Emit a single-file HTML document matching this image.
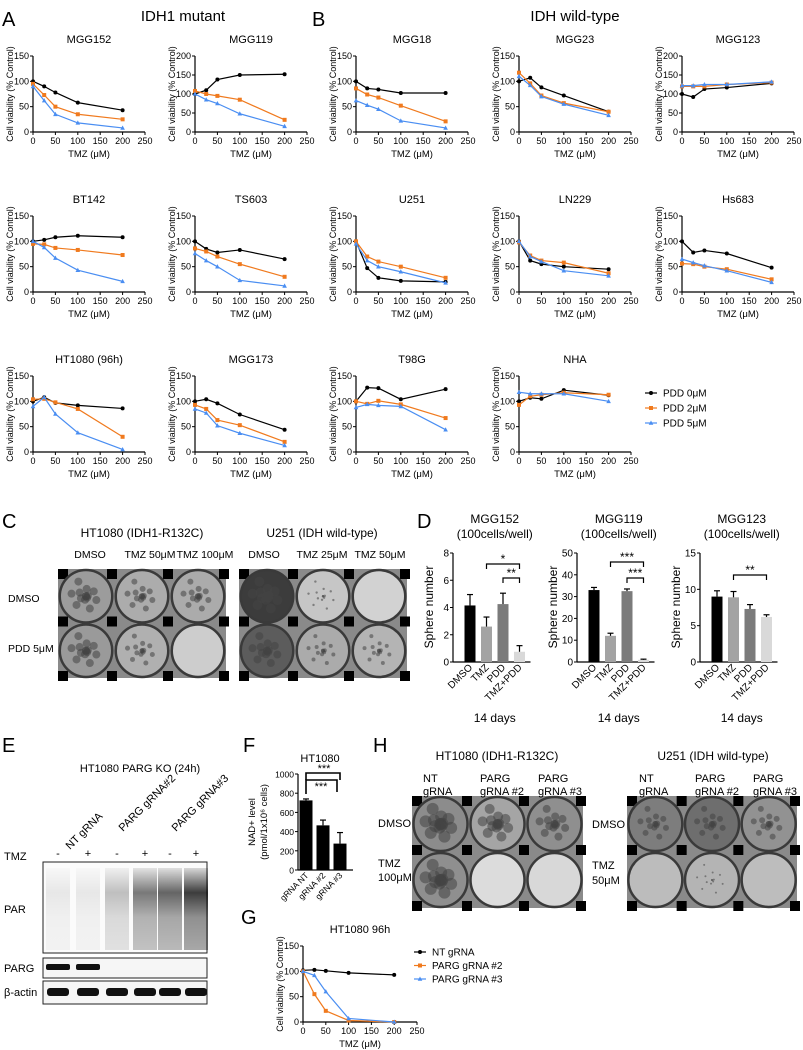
<!DOCTYPE html>
<html><head><meta charset="utf-8"><style>
html,body{margin:0;padding:0;background:#fff;}
svg{display:block;font-family:"Liberation Sans",Arial,sans-serif;}
</style></head><body>
<svg id="fig" width="803" height="1050" viewBox="0 0 803 1050" xmlns="http://www.w3.org/2000/svg">
<g id="static">
<text x="2" y="26" font-size="20">A</text>
<text x="312" y="26" font-size="20">B</text>
<text x="183" y="21" font-size="15" text-anchor="middle">IDH1 mutant</text>
<text x="575" y="21" font-size="15" text-anchor="middle">IDH wild-type</text>
<text x="2" y="528" font-size="20">C</text>
<text x="417" y="528" font-size="20">D</text>
<text x="2" y="752" font-size="20">E</text>
<text x="243" y="752" font-size="20">F</text>
<text x="241" y="924" font-size="20">G</text>
<text x="373" y="752" font-size="20">H</text>
</g>
<g id="charts"></g>
</svg>
<script>
// ---- Dose-response data (TMZ doses, µM) ----
const doses = [0, 25, 50, 100, 200];
const MGG152_PDD0 = [100, 90, 78, 58, 43];
const MGG152_PDD2 = [95, 73, 50, 35, 25];
const MGG152_PDD5 = [90, 62, 35, 18, 8];
const MGG119_PDD0 = [100, 110, 138, 150, 152];
const MGG119_PDD2 = [108, 100, 95, 85, 32];
const MGG119_PDD5 = [100, 85, 75, 48, 15];
const MGG18_PDD0 = [100, 86, 84, 77, 77];
const MGG18_PDD2 = [86, 74, 68, 52, 21];
const MGG18_PDD5 = [62, 53, 45, 22, 8];
const MGG23_PDD0 = [100, 107, 88, 72, 40];
const MGG23_PDD2 = [117, 96, 72, 57, 40];
const MGG23_PDD5 = [110, 92, 70, 55, 33];
const MGG123_PDD0 = [100, 92, 113, 117, 128];
const MGG123_PDD2 = [120, 120, 120, 125, 130];
const MGG123_PDD5 = [122, 122, 125, 125, 132];
const BT142_PDD0 = [100, 103, 108, 111, 108];
const BT142_PDD2 = [95, 94, 87, 83, 73];
const BT142_PDD5 = [100, 88, 67, 43, 21];
const TS603_PDD0 = [100, 85, 78, 83, 65];
const TS603_PDD2 = [86, 80, 70, 55, 30];
const TS603_PDD5 = [76, 62, 50, 23, 12];
const U251_PDD0 = [100, 47, 28, 22, 20];
const U251_PDD2 = [100, 70, 60, 50, 28];
const U251_PDD5 = [95, 62, 50, 40, 18];
const LN229_PDD0 = [100, 62, 55, 50, 45];
const LN229_PDD2 = [98, 72, 62, 58, 37];
const LN229_PDD5 = [100, 70, 60, 42, 32];
const HS683_PDD0 = [100, 78, 82, 76, 48];
const HS683_PDD2 = [56, 55, 50, 45, 25];
const HS683_PDD5 = [65, 58, 52, 42, 19];
const HT1080_PDD0 = [100, 108, 97, 92, 86];
const HT1080_PDD2 = [104, 105, 98, 85, 30];
const HT1080_PDD5 = [90, 108, 75, 38, 5];
const MGG173_PDD0 = [100, 104, 96, 74, 44];
const MGG173_PDD2 = [93, 85, 63, 53, 20];
const MGG173_PDD5 = [85, 77, 52, 37, 13];
const T98G_PDD0 = [100, 127, 126, 104, 124];
const T98G_PDD2 = [100, 95, 101, 94, 67];
const T98G_PDD5 = [88, 94, 92, 90, 44];
const NHA_PDD0 = [100, 107, 105, 122, 112];
const NHA_PDD2 = [93, 110, 113, 117, 113];
const NHA_PDD5 = [118, 115, 115, 115, 100];
const xTicks = [0, 50, 100, 150, 200, 250];
const yTicks150 = [0, 50, 100, 150];
const yTicks200 = [0, 50, 100, 150, 200];
const legendLabels = ["PDD 0\u03bcM", "PDD 2\u03bcM", "PDD 5\u03bcM"];
// ---- G data ----
const G_NT = [102, 103, 101, 97, 93];
const G_PARG2 = [100, 55, 22, 3, 0];
const G_PARG3 = [100, 92, 60, 7, 0];
const gLegend = ["NT gRNA", "PARG gRNA #2", "PARG gRNA #3"];
// ---- D bar data ----
const dCategories = ["DMSO", "TMZ", "PDD", "TMZ+PDD"];
const D_MGG152 = [4.15, 2.6, 4.25, 0.75];
const D_MGG152_ERR = [0.8, 0.7, 0.8, 0.45];
const D_MGG119 = [33, 12, 32.5, 1];
const D_MGG119_ERR = [1.2, 1.2, 1, 0.3];
const D_MGG123 = [9, 8.9, 7.3, 6.2];
const D_MGG123_ERR = [0.8, 0.8, 0.6, 0.3];
const dTicks152 = [0, 2, 4, 6, 8];
const dTicks119 = [0, 10, 20, 30, 40, 50];
const dTicks123 = [0, 5, 10, 15];
// ---- F bar data ----
const fCategories = ["gRNA NT", "gRNA #2", "gRNA #3"];
const F_NAD = [725, 465, 275];
const F_ERR = [15, 55, 115];
const fTicks = [0, 200, 400, 600, 800, 1000];

const NS = "http://www.w3.org/2000/svg";
const root = document.getElementById("charts");
const COLORS = ["#000000", "#f07a1e", "#4a8ef2"];
function el(tag, attrs, parent, txt) {
  const e = document.createElementNS(NS, tag);
  for (const k in attrs) e.setAttribute(k, attrs[k]);
  if (txt !== undefined) e.textContent = txt;
  (parent || root).appendChild(e);
  return e;
}
function marker(g, kind, x, y, c) {
  let m;
  if (kind === 0) m = el("circle", {cx: x, cy: y, r: 2, fill: c}, g);
  else if (kind === 1) m = el("rect", {x: x - 2, y: y - 2, width: 4, height: 4, fill: c}, g);
  else m = el("path", {d: `M${x},${y-2.5}L${x+2.3},${y+1.8}L${x-2.3},${y+1.8}Z`, fill: c}, g);
  return m;
}
function lineChart(name, title, x0, y0, ymax, series, opts) {
  opts = opts || {};
  const W = opts.w || 112, H = 76;
  const g = el("g", {});
  
  
  const sx = v => x0 + v / 250 * W;
  const sy = v => y0 - Math.max(v, 0) / ymax * H;
  el("text", {x: x0 + W / 2, y: y0 - H - 13, "font-size": 11, "text-anchor": "middle"}, g, title);
  const ticks = ymax === 200 ? yTicks200 : yTicks150;
  el("line", {x1: x0, y1: y0, x2: x0, y2: y0 - H, stroke: "#000", "stroke-width": 1.2}, g);
  el("line", {x1: x0, y1: y0, x2: x0 + W, y2: y0, stroke: "#000", "stroke-width": 1.2}, g);
  ticks.forEach(t => {
    el("line", {x1: x0 - 3, y1: sy(t), x2: x0, y2: sy(t), stroke: "#000"}, g);
    el("text", {x: x0 - 4, y: sy(t) + 3, "font-size": 9, "text-anchor": "end"}, g, t);
  });
  xTicks.forEach(t => {
    el("line", {x1: sx(t), y1: y0, x2: sx(t), y2: y0 + 3, stroke: "#000"}, g);
    el("text", {x: sx(t), y: y0 + 12, "font-size": 9, "text-anchor": "middle"}, g, t);
  });
  el("text", {x: x0 + W / 2, y: y0 + 25, "font-size": 9.5, "text-anchor": "middle"}, g, opts.xl || "TMZ (\u03bcM)");
  el("text", {x: 0, y: 0, "font-size": 9, "text-anchor": "middle", transform: `translate(${x0 - 20},${y0 - H / 2}) rotate(-90)`}, g, "Cell viability (% Control)");
  series.forEach((s, i) => {
    const pts = doses.map((d, j) => sx(d) + "," + sy(s[j])).join(" ");
    const pl = el("polyline", {points: pts, fill: "none", stroke: COLORS[i], "stroke-width": 1.2}, g);
    
    
    doses.forEach((d, j) => {
      const m = marker(g, i, sx(d), sy(s[j]), COLORS[i]);
      
      
    });
  });
  return g;
}
const R1 = 132, R2 = 292, R3 = 452;
lineChart("mgg152", "MGG152", 33, R1, 150, [MGG152_PDD0, MGG152_PDD2, MGG152_PDD5]);
lineChart("mgg119", "MGG119", 195, R1, 200, [MGG119_PDD0, MGG119_PDD2, MGG119_PDD5]);
lineChart("mgg18", "MGG18", 356, R1, 150, [MGG18_PDD0, MGG18_PDD2, MGG18_PDD5]);
lineChart("mgg23", "MGG23", 519, R1, 150, [MGG23_PDD0, MGG23_PDD2, MGG23_PDD5]);
lineChart("mgg123", "MGG123", 682, R1, 200, [MGG123_PDD0, MGG123_PDD2, MGG123_PDD5]);
lineChart("bt142", "BT142", 33, R2, 150, [BT142_PDD0, BT142_PDD2, BT142_PDD5]);
lineChart("ts603", "TS603", 195, R2, 150, [TS603_PDD0, TS603_PDD2, TS603_PDD5]);
lineChart("u251", "U251", 356, R2, 150, [U251_PDD0, U251_PDD2, U251_PDD5]);
lineChart("ln229", "LN229", 519, R2, 150, [LN229_PDD0, LN229_PDD2, LN229_PDD5]);
lineChart("hs683", "Hs683", 682, R2, 150, [HS683_PDD0, HS683_PDD2, HS683_PDD5]);
lineChart("ht1080", "HT1080 (96h)", 33, R3, 150, [HT1080_PDD0, HT1080_PDD2, HT1080_PDD5]);
lineChart("mgg173", "MGG173", 195, R3, 150, [MGG173_PDD0, MGG173_PDD2, MGG173_PDD5]);
lineChart("t98g", "T98G", 356, R3, 150, [T98G_PDD0, T98G_PDD2, T98G_PDD5]);
lineChart("nha", "NHA", 519, R3, 150, [NHA_PDD0, NHA_PDD2, NHA_PDD5]);
lineChart("g-ht1080", "HT1080 96h", 303, 1022, 150, [G_NT, G_PARG2, G_PARG3], {w: 114});

function legend(labels, x, y, dy, prefix) {
  labels.forEach((t, i) => {
    const g = el("g", {});
    
    
    el("line", {x1: x - 6, y1: y + i * dy, x2: x + 6, y2: y + i * dy, stroke: COLORS[i], "stroke-width": 1.2}, g);
    marker(g, i, x, y + i * dy, COLORS[i]);
    el("text", {x: x + 12, y: y + i * dy + 3.5, "font-size": 10}, g, t);
  });
}
legend(legendLabels, 651, 393, 15, "pdd");
legend(gLegend, 420, 952, 13.5, "g");

function barChart(name, t1, x0, y0, H, ymax, vals, errs, ticks, cats, fills, opts) {
  opts = opts || {};
  const g = el("g", {});
  
  
  const sy = v => y0 - v / ymax * H;
  const bw = opts.bw || 11, step = opts.step || 16.5, off = opts.off || 17;
  el("line", {x1: x0, y1: y0, x2: x0, y2: y0 - H, stroke: "#000", "stroke-width": 1.2}, g);
  el("line", {x1: x0, y1: y0, x2: x0 + off + step * (vals.length - 1) + bw, y2: y0, stroke: "#000", "stroke-width": 1.2}, g);
  ticks.forEach(t => {
    el("line", {x1: x0 - 3, y1: sy(t), x2: x0, y2: sy(t), stroke: "#000"}, g);
    el("text", {x: x0 - 4, y: sy(t) + 3.5, "font-size": opts.tf || 10, "text-anchor": "end"}, g, t);
  });
  vals.forEach((v, i) => {
    const cx = x0 + off + step * i;
    const r = el("rect", {x: cx - bw / 2, y: sy(v), width: bw, height: y0 - sy(v), fill: fills[i]}, g);
    
    
    el("line", {x1: cx, y1: sy(v), x2: cx, y2: sy(v + errs[i]), stroke: "#000", "stroke-width": 1.2}, g);
    el("line", {x1: cx - 3, y1: sy(v + errs[i]), x2: cx + 3, y2: sy(v + errs[i]), stroke: "#000", "stroke-width": 1.2}, g);
    el("text", {x: 0, y: 0, "font-size": opts.cf || 10, "text-anchor": "end", transform: `translate(${cx + 3},${y0 + 6}) rotate(-45)`}, g, cats[i]);
  });
  return {g, sy, off, step};
}
const dFills = ["#000", "#a3a3a3", "#7b7b7b", "#d9d9d9"];
function dPanel(name, title, x0, vals, errs, ymax, ticks, sigs) {
  const r = barChart(name, title, x0, 662, 109, ymax, vals, errs, ticks, dCategories, dFills);
  const cx0 = x0 + 17 + 16.5 * 1.5;
  el("text", {x: cx0, y: 523, "font-size": 12, "text-anchor": "middle"}, r.g, title);
  el("text", {x: cx0, y: 538, "font-size": 12, "text-anchor": "middle"}, r.g, "(100cells/well)");
  el("text", {x: 0, y: 0, "font-size": 12, "text-anchor": "middle", transform: `translate(${x0 - 20},${607}) rotate(-90)`}, r.g, "Sphere number");
  el("text", {x: cx0, y: 722, "font-size": 12, "text-anchor": "middle"}, r.g, "14 days");
  sigs.forEach(s => {
    const a = x0 + 17 + 16.5 * s[0], b = x0 + 17 + 16.5 * s[1], yy = s[2];
    el("path", {d: `M${a},${yy + 5}V${yy}H${b}V${yy + 5}`, fill: "none", stroke: "#000", "stroke-width": 1.2}, r.g);
    el("text", {x: (a + b) / 2, y: yy - 1, "font-size": 12, "text-anchor": "middle"}, r.g, s[3]);
  });
}
dPanel("d-mgg152", "MGG152", 453, D_MGG152, D_MGG152_ERR, 8, dTicks152, [[1, 3, 564, "*"], [2, 3, 578, "**"]]);
dPanel("d-mgg119", "MGG119", 577, D_MGG119, D_MGG119_ERR, 50, dTicks119, [[1, 3, 562, "***"], [2, 3, 578, "***"]]);
dPanel("d-mgg123", "MGG123", 700, D_MGG123, D_MGG123_ERR, 15, dTicks123, [[1, 3, 575, "**"]]);

// F chart
(function () {
  const r = barChart("f-nad", "HT1080", 298, 870, 96, 1000, F_NAD, F_ERR, fTicks, fCategories, ["#000", "#000", "#000"], {bw: 13, step: 17, off: 8, tf: 8.5, cf: 8.5});
  el("text", {x: 320, y: 762, "font-size": 11, "text-anchor": "middle"}, r.g, "HT1080");
  el("text", {x: 0, y: 0, "font-size": 9.5, "text-anchor": "middle", transform: "translate(255,822) rotate(-90)"}, r.g, "NAD+ level");
  el("text", {x: 0, y: 0, "font-size": 9.5, "text-anchor": "middle", transform: "translate(267,822) rotate(-90)"}, r.g, "(pmol/1x10\u2076 cells)");
  el("path", {d: "M306,794V780H337V792", fill: "none", stroke: "#000", "stroke-width": 1.6}, r.g);
  el("text", {x: 321, y: 790, "font-size": 11, "text-anchor": "middle"}, r.g, "***");
  el("path", {d: "M306,780V773H340V780", fill: "none", stroke: "#000", "stroke-width": 1.6}, r.g);
  el("text", {x: 324, y: 772, "font-size": 11, "text-anchor": "middle"}, r.g, "***");
})();

// Plate photos
function plate(name, x, y, w, h, fills, dark) {
  const g = el("g", {});
  
  
  el("rect", {x, y, width: w, height: h, fill: "#8a8a8a"}, g);
  const cw = w / 3, rh = h / 2;
  for (let i = 0; i <= 3; i++) for (let j = 0; j <= 2; j++) {
    el("rect", {x: x + i * cw - 7 < x ? x : x + i * cw - 7, y: y + j * rh - 7 < y ? y : y + j * rh - 7, width: 10, height: 10, fill: "#000"}, g);
  }
  for (let j = 0; j < 2; j++) for (let i = 0; i < 3; i++) {
    const cx = x + cw * (i + 0.5), cy = y + rh * (j + 0.5), rr = Math.min(cw, rh) / 2 - 1;
    el("circle", {cx, cy, r: rr, fill: fills[j * 3 + i], stroke: "#3a3a3a", "stroke-width": 2.5}, g);
    const d = dark[j * 3 + i];
    if (d) {
      for (let k = 0; k < 14; k++) {
        const a = k * 2.4, rad = rr * 0.7 * ((k * 37 % 10) / 10);
        el("circle", {cx: cx + Math.cos(a) * rad, cy: cy + Math.sin(a) * rad, r: d, fill: "#444", opacity: 0.55}, g);
      }
    }
  }
  return g;
}
plate("c-ht1080-plate", 58, 569, 168, 109, ["#9c9c9c", "#acacac", "#ababab", "#9a9a9a", "#b0b0b0", "#cdcdcd"], [4, 3, 3, 4, 2.5, 0]);
plate("c-u251-plate", 239, 569, 168, 109, ["#3c3c3c", "#c6c6c6", "#d2d2d2", "#5c5c5c", "#ababab", "#b4b4b4"], [5, 1.2, 0, 4, 2, 2]);
plate("h-ht1080-plate", 412, 796, 171, 112, ["#8c8c8c", "#a5a5a5", "#8f8f8f", "#8f8f8f", "#dcdcdc", "#d8d8d8"], [6, 5, 4, 6, 0, 0]);
plate("h-u251-plate", 627, 796, 170, 112, ["#7d7d7d", "#6e6e6e", "#929292", "#bcbcbc", "#b4b4b4", "#bdbdbd"], [3, 3, 3, 0, 1, 0]);

function txt(x, y, s, t, anchor, name) {
  const e = el("text", {x, y, "font-size": s, "text-anchor": anchor || "start"}, root, t);
  
  
}
// C labels
txt(142, 537, 12, "HT1080 (IDH1-R132C)", "middle", "c-ht1080-title");
txt(322, 537, 12, "U251 (IDH wild-type)", "middle", "c-u251-title");
[["DMSO", 90], ["TMZ 50\u03bcM", 150], ["TMZ 100\u03bcM", 205], ["DMSO", 264], ["TMZ 25\u03bcM", 322], ["TMZ 50\u03bcM", 380]].forEach(c => txt(c[1], 558, 10.5, c[0], "middle", "c-column-label"));
txt(8, 602, 10.5, "DMSO", "start", "c-row-label");
txt(8, 652, 10.5, "PDD 5\u03bcM", "start", "c-row-label");
// H labels
txt(497, 760, 12, "HT1080 (IDH1-R132C)", "middle", "h-ht1080-title");
txt(713, 760, 12, "U251 (IDH wild-type)", "middle", "h-u251-title");
[[423, "NT", "gRNA"], [480, "PARG", "gRNA #2"], [538, "PARG", "gRNA #3"], [639, "NT", "gRNA"], [695, "PARG", "gRNA #2"], [753, "PARG", "gRNA #3"]].forEach(c => {
  txt(c[0], 782, 11, c[1], "start", "h-column-label");
  txt(c[0], 795, 11, c[2], "start", "h-column-label");
});
txt(378, 827, 11, "DMSO", "start", "h-row-label");
txt(378, 867, 11, "TMZ", "start", "h-row-label");
txt(378, 881, 11, "100\u03bcM", "start", "h-row-label");
txt(592, 828, 11, "DMSO", "start", "h-row-label");
txt(592, 869, 11, "TMZ", "start", "h-row-label");
txt(592, 884, 11, "50\u03bcM", "start", "h-row-label");
// E western blot
txt(140, 772, 11, "HT1080 PARG KO (24h)", "middle", "e-title");
[[70, 850, "NT gRNA"], [123, 832, "PARG gRNA#2"], [176, 832, "PARG gRNA#3"]].forEach(c => {
  const e = el("text", {x: 0, y: 0, "font-size": 11, transform: `translate(${c[0]},${c[1]}) rotate(-45)`}, root, c[2]);
  
  
});
txt(4, 860, 11, "TMZ", "start", "e-tmz-label");
const lanes = [58, 88, 117, 145, 170, 196];
["-", "+", "-", "+", "-", "+"].forEach((s, i) => txt(lanes[i], 857, 11, s, "middle", "e-tmz-sign"));
txt(4, 913, 11, "PAR", "start", "e-par-label");
txt(4, 972, 11, "PARG", "start", "e-parg-label");
txt(4, 996, 11, "\u03b2-actin", "start", "e-actin-label");
(function () {
  const g = el("g", {});
  
  
  const defs = el("defs", {}, g);
  const lg = el("linearGradient", {id: "smear", x1: 0, y1: 0, x2: 0, y2: 1}, defs);
  el("stop", {offset: "0", "stop-color": "#000", "stop-opacity": 0.15}, lg);
  el("stop", {offset: "0.3", "stop-color": "#000", "stop-opacity": 0.8}, lg);
  el("stop", {offset: "0.6", "stop-color": "#000", "stop-opacity": 0.45}, lg);
  el("stop", {offset: "1", "stop-color": "#000", "stop-opacity": 0.35}, lg);
  el("rect", {x: 43, y: 862, width: 164, height: 91, fill: "#fbfbfb", stroke: "#222", "stroke-width": 1}, g);
  el("rect", {x: 43, y: 958, width: 164, height: 20, fill: "#f6f6f6", stroke: "#222", "stroke-width": 1}, g);
  el("rect", {x: 43, y: 981, width: 164, height: 23, fill: "#f6f6f6", stroke: "#222", "stroke-width": 1}, g);
  const parOp = [0.1, 0.1, 0.3, 0.65, 0.75, 0.95];
  lanes.forEach((x, i) => {
    el("rect", {x: x - 12, y: 868, width: 24, height: 82, fill: "url(#smear)", opacity: parOp[i]}, g);
    el("rect", {x: x - 11, y: 988, width: 22, height: 8, rx: 3, fill: "#111"}, g);
    if (i < 2) el("rect", {x: x - 12, y: 964, width: 24, height: 6, rx: 2, fill: "#111"}, g);
  });
})();
</script>
</body></html>
